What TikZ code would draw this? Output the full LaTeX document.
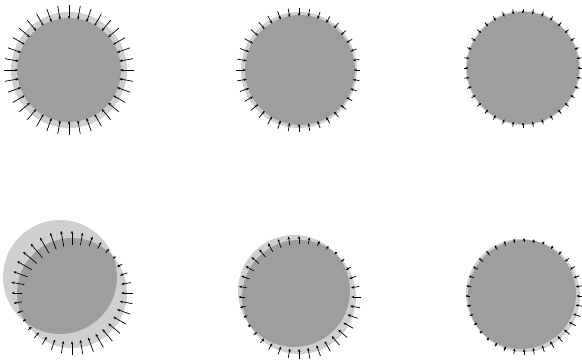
\documentclass[tikz,border=0pt]{standalone}
\usepackage{tikz}
\usetikzlibrary{calc,arrows.meta}

\begin{document}
\begin{tikzpicture}[
  x=1pt, y=-1pt,
  ring/.style={fill=black!19},
  core/.style={fill=black!38},
  vec/.style={-{Stealth[length=3pt,width=2.6pt]}, line width=0.7pt, black}]
  \useasboundingbox (0,0) rectangle (582,364);
  % contour (cx,cy,r), target (tx,ty,R), arrow gain k
  \foreach \cx/\cy/\r/\tx/\ty/\R/\k in {
      69/70/58/69/70/52/1.8, 299/70/58/300/70/55/1.7, 523/68/57/523/68/56/2,
      72/293/55/60/277/57/0.7, 299/297/57/294/291/56/1, 524/296/56/521/294/55/1}{
    \fill[ring] (\cx,\cy) circle (\r) (\tx,\ty) circle (\R);
    \begin{scope}
      \clip (\cx,\cy) circle (\r);
      \fill[core] (\tx,\ty) circle (\R);
    \end{scope}
    \foreach \a in {0,10,...,350}{
      \pgfmathsetmacro\px{\cx+\r*cos(\a)}
      \pgfmathsetmacro\py{\cy+\r*sin(\a)}
      \pgfmathsetmacro\d{veclen(\px-\tx,\py-\ty)-\R}
      \pgfmathsetmacro\len{0.5*sign(\d)*(3+\k*abs(\d))}
      \draw[vec] ($(\px,\py)+(\a:\len)$) -- ($(\px,\py)-(\a:\len)$);
    }
  }
\end{tikzpicture}
\end{document}
